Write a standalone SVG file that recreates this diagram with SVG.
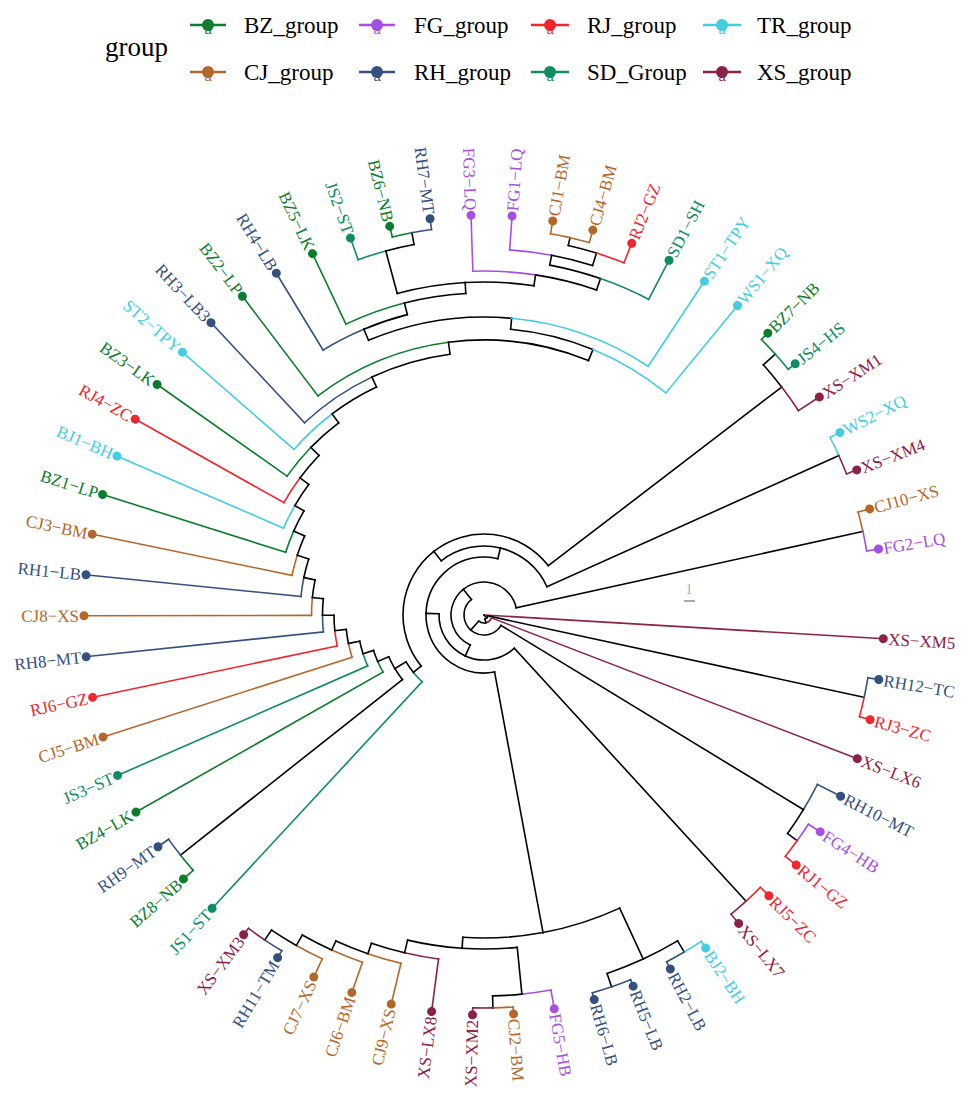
<svg xmlns="http://www.w3.org/2000/svg" width="972" height="1101" viewBox="0 0 972 1101">
<style>
text{font-family:"Liberation Serif","Times New Roman",serif}
.BZ{--c:#0b7d2c}.CJ{--c:#b5672a}.FG{--c:#a54fe3}.RH{--c:#34507f}.RJ{--c:#f0252e}.SD{--c:#0f8c62}.TR{--c:#42cde0}.XS{--c:#8c2046}
#connectors{fill:none;stroke-width:1.6;stroke-linecap:square}
#connectors g{stroke:var(--c,#000)}
#connectors circle{fill:none}
.tip{fill:var(--c)}
.tip text{font-size:17px}
.key line{stroke:var(--c);stroke-width:2.5}
.key circle,.key text{fill:var(--c)}
.key text{font-family:"Liberation Sans",sans-serif;font-size:13px}
.lg{font-size:23px;fill:#000}
</style>
<rect width="972" height="1101" fill="#fff"/>
<g id="legend">
<text x="105" y="56" font-size="27">group</text>
<g class="key BZ"><line x1="190" x2="226" y1="25" y2="25"/><circle cx="208" cy="25" r="6"/><text x="208" y="34" text-anchor="middle">a</text></g>
<text class="lg" x="244" y="33">BZ_group</text>
<g class="key FG"><line x1="359" x2="395" y1="25" y2="25"/><circle cx="377" cy="25" r="6"/><text x="377" y="34" text-anchor="middle">a</text></g>
<text class="lg" x="414" y="33">FG_group</text>
<g class="key RJ"><line x1="531" x2="569" y1="25" y2="25"/><circle cx="550" cy="25" r="6"/><text x="550" y="34" text-anchor="middle">a</text></g>
<text class="lg" x="587" y="33">RJ_group</text>
<g class="key TR"><line x1="703" x2="741" y1="25" y2="25"/><circle cx="722" cy="25" r="6"/><text x="722" y="34" text-anchor="middle">a</text></g>
<text class="lg" x="757" y="33">TR_group</text>
<g class="key CJ"><line x1="190" x2="226" y1="72" y2="72"/><circle cx="208" cy="72" r="6"/><text x="208" y="81" text-anchor="middle">a</text></g>
<text class="lg" x="244" y="80">CJ_group</text>
<g class="key RH"><line x1="359" x2="395" y1="72" y2="72"/><circle cx="377" cy="72" r="6"/><text x="377" y="81" text-anchor="middle">a</text></g>
<text class="lg" x="414" y="80">RH_group</text>
<g class="key SD"><line x1="531" x2="569" y1="72" y2="72"/><circle cx="550" cy="72" r="6"/><text x="550" y="81" text-anchor="middle">a</text></g>
<text class="lg" x="587" y="80">SD_Group</text>
<g class="key XS"><line x1="703" x2="741" y1="72" y2="72"/><circle cx="722" cy="72" r="6"/><text x="722" y="81" text-anchor="middle">a</text></g>
<text class="lg" x="757" y="80">XS_group</text>
</g>
<g id="scalebar"><text x="689" y="594" font-size="14" fill="#aaa" text-anchor="middle">1</text><line x1="684" x2="695" y1="601" y2="601" stroke="#aaa" stroke-width="2"/></g>
<g id="connectors" transform="translate(484,615)">
<g class="XS"><line x1="0" x2="400" transform="rotate(3.4)"/></g>
<g><line x1="0" x2="4" transform="rotate(44.18)"/></g>
<g><circle r="4" pathLength="360" stroke-dasharray="31.955 720" transform="rotate(12.225)"/><line x1="4" x2="389" transform="rotate(12.225)"/></g>
<g><circle r="4" pathLength="360" stroke-dasharray="31.95 720" transform="rotate(44.18)"/><line x1="4" x2="8" transform="rotate(76.13)"/></g>
<g class="XS"><circle r="8" pathLength="360" stroke-dasharray="55.08 720" transform="rotate(21.05)"/><line x1="8" x2="400" transform="rotate(21.05)"/></g>
<g><circle r="8" pathLength="360" stroke-dasharray="55.08 720" transform="rotate(76.13)"/><line x1="8" x2="20" transform="rotate(131.21)"/></g>
<g><circle r="20" pathLength="360" stroke-dasharray="99.865 720" transform="rotate(31.345)"/><line x1="20" x2="374" transform="rotate(31.345)"/></g>
<g><circle r="20" pathLength="360" stroke-dasharray="99.86 720" transform="rotate(131.21)"/><line x1="20" x2="33" transform="rotate(231.07)"/></g>
<g><circle r="33" pathLength="360" stroke-dasharray="116.5 720" transform="rotate(114.57)"/><line x1="33" x2="45" transform="rotate(114.57)"/></g>
<g><circle r="33" pathLength="360" stroke-dasharray="116.49 720" transform="rotate(231.07)"/><line x1="33" x2="388" transform="rotate(347.56)"/></g>
<g><circle r="45" pathLength="360" stroke-dasharray="67.05 720" transform="rotate(47.52)"/><line x1="45" x2="388" transform="rotate(47.52)"/></g>
<g><circle r="45" pathLength="360" stroke-dasharray="67.05 720" transform="rotate(114.57)"/><line x1="45" x2="58" transform="rotate(181.62)"/></g>
<g><circle r="58" pathLength="360" stroke-dasharray="102.15 720" transform="rotate(79.47)"/><line x1="58" x2="323" transform="rotate(79.47)"/></g>
<g><circle r="58" pathLength="360" stroke-dasharray="102.15 720" transform="rotate(181.62)"/><line x1="58" x2="69" transform="rotate(283.77)"/></g>
<g><circle r="69" pathLength="360" stroke-dasharray="52.03 720" transform="rotate(231.74)"/><line x1="69" x2="81" transform="rotate(231.74)"/></g>
<g><circle r="69" pathLength="360" stroke-dasharray="52.02 720" transform="rotate(283.77)"/><line x1="69" x2="389" transform="rotate(335.79)"/></g>
<g><circle r="81" pathLength="360" stroke-dasharray="90.82 720" transform="rotate(140.92)"/><line x1="81" x2="91" transform="rotate(140.92)"/></g>
<g><circle r="81" pathLength="360" stroke-dasharray="90.815 720" transform="rotate(231.74)"/><line x1="81" x2="375" transform="rotate(322.555)"/></g>
<g class="RH"><circle r="389" pathLength="360" stroke-dasharray="2.945 720" transform="rotate(9.28)"/><line x1="389" x2="400" transform="rotate(9.28)"/></g>
<g class="RJ"><circle r="389" pathLength="360" stroke-dasharray="2.945 720" transform="rotate(12.225)"/><line x1="389" x2="400" transform="rotate(15.17)"/></g>
<g class="RH"><circle r="374" pathLength="360" stroke-dasharray="4.415 720" transform="rotate(26.93)"/><line x1="374" x2="400" transform="rotate(26.93)"/></g>
<g><circle r="374" pathLength="360" stroke-dasharray="4.415 720" transform="rotate(31.345)"/><line x1="374" x2="386" transform="rotate(35.76)"/></g>
<g class="FG"><circle r="386" pathLength="360" stroke-dasharray="2.94 720" transform="rotate(32.82)"/><line x1="386" x2="400" transform="rotate(32.82)"/></g>
<g class="RJ"><circle r="386" pathLength="360" stroke-dasharray="2.94 720" transform="rotate(35.76)"/><line x1="386" x2="400" transform="rotate(38.7)"/></g>
<g class="RJ"><circle r="388" pathLength="360" stroke-dasharray="2.94 720" transform="rotate(44.58)"/><line x1="388" x2="400" transform="rotate(44.58)"/></g>
<g class="XS"><circle r="388" pathLength="360" stroke-dasharray="2.94 720" transform="rotate(47.52)"/><line x1="388" x2="400" transform="rotate(50.46)"/></g>
<g><circle r="323" pathLength="360" stroke-dasharray="14.3 720" transform="rotate(65.17)"/><line x1="323" x2="379" transform="rotate(65.17)"/></g>
<g><circle r="323" pathLength="360" stroke-dasharray="14.29 720" transform="rotate(79.47)"/><line x1="323" x2="334" transform="rotate(93.76)"/></g>
<g><circle r="379" pathLength="360" stroke-dasharray="5.88 720" transform="rotate(59.29)"/><line x1="379" x2="392" transform="rotate(59.29)"/></g>
<g><circle r="379" pathLength="360" stroke-dasharray="5.885 720" transform="rotate(65.17)"/><line x1="379" x2="393" transform="rotate(71.055)"/></g>
<g class="TR"><circle r="392" pathLength="360" stroke-dasharray="2.94 720" transform="rotate(56.35)"/><line x1="392" x2="400" transform="rotate(56.35)"/></g>
<g class="RH"><circle r="392" pathLength="360" stroke-dasharray="2.94 720" transform="rotate(59.29)"/><line x1="392" x2="400" transform="rotate(62.23)"/></g>
<g class="RH"><circle r="393" pathLength="360" stroke-dasharray="2.945 720" transform="rotate(68.11)"/><line x1="393" x2="400" transform="rotate(68.11)"/></g>
<g class="RH"><circle r="393" pathLength="360" stroke-dasharray="2.945 720" transform="rotate(71.055)"/><line x1="393" x2="400" transform="rotate(74)"/></g>
<g><circle r="334" pathLength="360" stroke-dasharray="9.47 720" transform="rotate(84.29)"/><line x1="334" x2="381" transform="rotate(84.29)"/></g>
<g><circle r="334" pathLength="360" stroke-dasharray="9.47 720" transform="rotate(93.76)"/><line x1="334" x2="347" transform="rotate(103.23)"/></g>
<g class="FG"><circle r="381" pathLength="360" stroke-dasharray="4.41 720" transform="rotate(79.88)"/><line x1="381" x2="400" transform="rotate(79.88)"/></g>
<g><circle r="381" pathLength="360" stroke-dasharray="4.415 720" transform="rotate(84.29)"/><line x1="381" x2="393" transform="rotate(88.705)"/></g>
<g class="CJ"><circle r="393" pathLength="360" stroke-dasharray="2.945 720" transform="rotate(85.76)"/><line x1="393" x2="400" transform="rotate(85.76)"/></g>
<g class="XS"><circle r="393" pathLength="360" stroke-dasharray="2.945 720" transform="rotate(88.705)"/><line x1="393" x2="400" transform="rotate(91.65)"/></g>
<g class="XS"><circle r="347" pathLength="360" stroke-dasharray="5.7 720" transform="rotate(97.53)"/><line x1="347" x2="400" transform="rotate(97.53)"/></g>
<g><circle r="347" pathLength="360" stroke-dasharray="5.7 720" transform="rotate(103.23)"/><line x1="347" x2="358" transform="rotate(108.93)"/></g>
<g class="CJ"><circle r="358" pathLength="360" stroke-dasharray="5.52 720" transform="rotate(103.41)"/><line x1="358" x2="400" transform="rotate(103.41)"/></g>
<g><circle r="358" pathLength="360" stroke-dasharray="5.51 720" transform="rotate(108.93)"/><line x1="358" x2="368" transform="rotate(114.44)"/></g>
<g class="CJ"><circle r="368" pathLength="360" stroke-dasharray="5.15 720" transform="rotate(109.29)"/><line x1="368" x2="400" transform="rotate(109.29)"/></g>
<g><circle r="368" pathLength="360" stroke-dasharray="5.15 720" transform="rotate(114.44)"/><line x1="368" x2="380" transform="rotate(119.59)"/></g>
<g class="CJ"><circle r="380" pathLength="360" stroke-dasharray="4.41 720" transform="rotate(115.18)"/><line x1="380" x2="400" transform="rotate(115.18)"/></g>
<g><circle r="380" pathLength="360" stroke-dasharray="4.41 720" transform="rotate(119.59)"/><line x1="380" x2="392" transform="rotate(124)"/></g>
<g class="RH"><circle r="392" pathLength="360" stroke-dasharray="2.94 720" transform="rotate(121.06)"/><line x1="392" x2="400" transform="rotate(121.06)"/></g>
<g class="XS"><circle r="392" pathLength="360" stroke-dasharray="2.94 720" transform="rotate(124)"/><line x1="392" x2="400" transform="rotate(126.94)"/></g>
<g class="SD"><circle r="91" pathLength="360" stroke-dasharray="8.09 720" transform="rotate(132.83)"/><line x1="91" x2="400" transform="rotate(132.83)"/></g>
<g><circle r="91" pathLength="360" stroke-dasharray="8.09 720" transform="rotate(140.92)"/><line x1="91" x2="104" transform="rotate(149.01)"/></g>
<g><circle r="104" pathLength="360" stroke-dasharray="7.36 720" transform="rotate(141.65)"/><line x1="104" x2="387" transform="rotate(141.65)"/></g>
<g><circle r="104" pathLength="360" stroke-dasharray="7.36 720" transform="rotate(149.01)"/><line x1="104" x2="116" transform="rotate(156.37)"/></g>
<g class="BZ"><circle r="387" pathLength="360" stroke-dasharray="2.94 720" transform="rotate(138.71)"/><line x1="387" x2="400" transform="rotate(138.71)"/></g>
<g class="RH"><circle r="387" pathLength="360" stroke-dasharray="2.94 720" transform="rotate(141.65)"/><line x1="387" x2="400" transform="rotate(144.59)"/></g>
<g class="BZ"><circle r="116" pathLength="360" stroke-dasharray="5.89 720" transform="rotate(150.48)"/><line x1="116" x2="400" transform="rotate(150.48)"/></g>
<g><circle r="116" pathLength="360" stroke-dasharray="5.88 720" transform="rotate(156.37)"/><line x1="116" x2="127" transform="rotate(162.25)"/></g>
<g class="SD"><circle r="127" pathLength="360" stroke-dasharray="5.89 720" transform="rotate(156.36)"/><line x1="127" x2="400" transform="rotate(156.36)"/></g>
<g><circle r="127" pathLength="360" stroke-dasharray="5.88 720" transform="rotate(162.25)"/><line x1="127" x2="138.5" transform="rotate(168.13)"/></g>
<g class="CJ"><circle r="138.5" pathLength="360" stroke-dasharray="5.89 720" transform="rotate(162.24)"/><line x1="138.5" x2="400" transform="rotate(162.24)"/></g>
<g><circle r="138.5" pathLength="360" stroke-dasharray="5.89 720" transform="rotate(168.13)"/><line x1="138.5" x2="150" transform="rotate(174.02)"/></g>
<g class="RJ"><circle r="150" pathLength="360" stroke-dasharray="5.9 720" transform="rotate(168.12)"/><line x1="150" x2="400" transform="rotate(168.12)"/></g>
<g><circle r="150" pathLength="360" stroke-dasharray="5.9 720" transform="rotate(174.02)"/><line x1="150" x2="161.5" transform="rotate(179.92)"/></g>
<g class="RH"><circle r="161.5" pathLength="360" stroke-dasharray="5.91 720" transform="rotate(174.01)"/><line x1="161.5" x2="400" transform="rotate(174.01)"/></g>
<g><circle r="161.5" pathLength="360" stroke-dasharray="5.9 720" transform="rotate(179.92)"/><line x1="161.5" x2="172.5" transform="rotate(185.82)"/></g>
<g class="CJ"><circle r="172.5" pathLength="360" stroke-dasharray="5.93 720" transform="rotate(179.89)"/><line x1="172.5" x2="400" transform="rotate(179.89)"/></g>
<g><circle r="172.5" pathLength="360" stroke-dasharray="5.93 720" transform="rotate(185.82)"/><line x1="172.5" x2="184" transform="rotate(191.75)"/></g>
<g class="RH"><circle r="184" pathLength="360" stroke-dasharray="5.98 720" transform="rotate(185.77)"/><line x1="184" x2="400" transform="rotate(185.77)"/></g>
<g><circle r="184" pathLength="360" stroke-dasharray="5.98 720" transform="rotate(191.75)"/><line x1="184" x2="196" transform="rotate(197.73)"/></g>
<g class="CJ"><circle r="196" pathLength="360" stroke-dasharray="6.07 720" transform="rotate(191.66)"/><line x1="196" x2="400" transform="rotate(191.66)"/></g>
<g><circle r="196" pathLength="360" stroke-dasharray="6.07 720" transform="rotate(197.73)"/><line x1="196" x2="208" transform="rotate(203.8)"/></g>
<g class="BZ"><circle r="208" pathLength="360" stroke-dasharray="6.26 720" transform="rotate(197.54)"/><line x1="208" x2="400" transform="rotate(197.54)"/></g>
<g><circle r="208" pathLength="360" stroke-dasharray="6.25 720" transform="rotate(203.8)"/><line x1="208" x2="218.5" transform="rotate(210.05)"/></g>
<g class="TR"><circle r="218.5" pathLength="360" stroke-dasharray="6.63 720" transform="rotate(203.42)"/><line x1="218.5" x2="400" transform="rotate(203.42)"/></g>
<g><circle r="218.5" pathLength="360" stroke-dasharray="6.63 720" transform="rotate(210.05)"/><line x1="218.5" x2="229.5" transform="rotate(216.68)"/></g>
<g class="RJ"><circle r="229.5" pathLength="360" stroke-dasharray="7.37 720" transform="rotate(209.31)"/><line x1="229.5" x2="400" transform="rotate(209.31)"/></g>
<g><circle r="229.5" pathLength="360" stroke-dasharray="7.38 720" transform="rotate(216.68)"/><line x1="229.5" x2="241" transform="rotate(224.06)"/></g>
<g class="BZ"><circle r="241" pathLength="360" stroke-dasharray="8.87 720" transform="rotate(215.19)"/><line x1="241" x2="400" transform="rotate(215.19)"/></g>
<g><circle r="241" pathLength="360" stroke-dasharray="8.86 720" transform="rotate(224.06)"/><line x1="241" x2="252" transform="rotate(232.92)"/></g>
<g class="TR"><circle r="252" pathLength="360" stroke-dasharray="11.85 720" transform="rotate(221.07)"/><line x1="252" x2="400" transform="rotate(221.07)"/></g>
<g><circle r="252" pathLength="360" stroke-dasharray="11.85 720" transform="rotate(232.92)"/><line x1="252" x2="263" transform="rotate(244.77)"/></g>
<g class="RH"><circle r="263" pathLength="360" stroke-dasharray="17.81 720" transform="rotate(226.96)"/><line x1="263" x2="400" transform="rotate(226.96)"/></g>
<g><circle r="263" pathLength="360" stroke-dasharray="17.81 720" transform="rotate(244.77)"/><line x1="263" x2="275" transform="rotate(262.58)"/></g>
<g class="BZ"><circle r="275" pathLength="360" stroke-dasharray="29.74 720" transform="rotate(232.84)"/><line x1="275" x2="400" transform="rotate(232.84)"/></g>
<g><circle r="275" pathLength="360" stroke-dasharray="29.74 720" transform="rotate(262.58)"/><line x1="275" x2="287" transform="rotate(292.32)"/></g>
<g><circle r="287" pathLength="360" stroke-dasharray="17 720" transform="rotate(275.32)"/><line x1="287" x2="298" transform="rotate(275.32)"/></g>
<g class="TR"><circle r="287" pathLength="360" stroke-dasharray="17 720" transform="rotate(292.32)"/><line x1="287" x2="400" transform="rotate(309.32)"/></g>
<g><circle r="298" pathLength="360" stroke-dasharray="28.12 720" transform="rotate(247.2)"/><line x1="298" x2="310" transform="rotate(247.2)"/></g>
<g class="TR"><circle r="298" pathLength="360" stroke-dasharray="28.11 720" transform="rotate(275.32)"/><line x1="298" x2="400" transform="rotate(303.43)"/></g>
<g class="RH"><circle r="310" pathLength="360" stroke-dasharray="8.48 720" transform="rotate(238.72)"/><line x1="310" x2="400" transform="rotate(238.72)"/></g>
<g><circle r="310" pathLength="360" stroke-dasharray="8.49 720" transform="rotate(247.2)"/><line x1="310" x2="322" transform="rotate(255.69)"/></g>
<g class="BZ"><circle r="322" pathLength="360" stroke-dasharray="11.08 720" transform="rotate(244.61)"/><line x1="322" x2="400" transform="rotate(244.61)"/></g>
<g><circle r="322" pathLength="360" stroke-dasharray="11.07 720" transform="rotate(255.69)"/><line x1="322" x2="333" transform="rotate(266.76)"/></g>
<g><circle r="333" pathLength="360" stroke-dasharray="11.86 720" transform="rotate(254.9)"/><line x1="333" x2="377" transform="rotate(254.9)"/></g>
<g><circle r="333" pathLength="360" stroke-dasharray="11.86 720" transform="rotate(266.76)"/><line x1="333" x2="344" transform="rotate(278.62)"/></g>
<g class="SD"><circle r="377" pathLength="360" stroke-dasharray="4.41 720" transform="rotate(250.49)"/><line x1="377" x2="400" transform="rotate(250.49)"/></g>
<g><circle r="377" pathLength="360" stroke-dasharray="4.41 720" transform="rotate(254.9)"/><line x1="377" x2="389" transform="rotate(259.31)"/></g>
<g class="BZ"><circle r="389" pathLength="360" stroke-dasharray="2.94 720" transform="rotate(256.37)"/><line x1="389" x2="400" transform="rotate(256.37)"/></g>
<g class="RH"><circle r="389" pathLength="360" stroke-dasharray="2.94 720" transform="rotate(259.31)"/><line x1="389" x2="400" transform="rotate(262.25)"/></g>
<g class="FG"><circle r="344" pathLength="360" stroke-dasharray="10.48 720" transform="rotate(268.14)"/><line x1="344" x2="400" transform="rotate(268.14)"/></g>
<g><circle r="344" pathLength="360" stroke-dasharray="10.48 720" transform="rotate(278.62)"/><line x1="344" x2="356" transform="rotate(289.1)"/></g>
<g><circle r="356" pathLength="360" stroke-dasharray="8.46 720" transform="rotate(280.64)"/><line x1="356" x2="366" transform="rotate(280.64)"/></g>
<g class="SD"><circle r="356" pathLength="360" stroke-dasharray="8.45 720" transform="rotate(289.1)"/><line x1="356" x2="400" transform="rotate(297.55)"/></g>
<g class="FG"><circle r="366" pathLength="360" stroke-dasharray="6.62 720" transform="rotate(274.02)"/><line x1="366" x2="400" transform="rotate(274.02)"/></g>
<g><circle r="366" pathLength="360" stroke-dasharray="6.62 720" transform="rotate(280.64)"/><line x1="366" x2="379" transform="rotate(287.26)"/></g>
<g><circle r="379" pathLength="360" stroke-dasharray="4.415 720" transform="rotate(282.845)"/><line x1="379" x2="387" transform="rotate(282.845)"/></g>
<g class="RJ"><circle r="379" pathLength="360" stroke-dasharray="4.41 720" transform="rotate(287.26)"/><line x1="379" x2="400" transform="rotate(291.67)"/></g>
<g class="CJ"><circle r="387" pathLength="360" stroke-dasharray="2.945 720" transform="rotate(279.9)"/><line x1="387" x2="400" transform="rotate(279.9)"/></g>
<g class="CJ"><circle r="387" pathLength="360" stroke-dasharray="2.945 720" transform="rotate(282.845)"/><line x1="387" x2="400" transform="rotate(285.79)"/></g>
<g><circle r="375" pathLength="360" stroke-dasharray="4.415 720" transform="rotate(318.14)"/><line x1="375" x2="391" transform="rotate(318.14)"/></g>
<g class="XS"><circle r="375" pathLength="360" stroke-dasharray="4.415 720" transform="rotate(322.555)"/><line x1="375" x2="400" transform="rotate(326.97)"/></g>
<g class="BZ"><circle r="391" pathLength="360" stroke-dasharray="2.94 720" transform="rotate(315.2)"/><line x1="391" x2="400" transform="rotate(315.2)"/></g>
<g class="SD"><circle r="391" pathLength="360" stroke-dasharray="2.94 720" transform="rotate(318.14)"/><line x1="391" x2="400" transform="rotate(321.08)"/></g>
<g class="TR"><circle r="389" pathLength="360" stroke-dasharray="2.94 720" transform="rotate(332.85)"/><line x1="389" x2="400" transform="rotate(332.85)"/></g>
<g class="XS"><circle r="389" pathLength="360" stroke-dasharray="2.94 720" transform="rotate(335.79)"/><line x1="389" x2="400" transform="rotate(338.73)"/></g>
<g class="CJ"><circle r="388" pathLength="360" stroke-dasharray="2.94 720" transform="rotate(344.62)"/><line x1="388" x2="400" transform="rotate(344.62)"/></g>
<g class="FG"><circle r="388" pathLength="360" stroke-dasharray="2.94 720" transform="rotate(347.56)"/><line x1="388" x2="400" transform="rotate(350.5)"/></g>
</g>
<g id="tips" transform="translate(484,615)">
<g id="tip-XS-XM5" class="tip XS" transform="rotate(3.4)"><circle cx="400" r="4.5"/><text x="405" dy=".35em">XS−XM5</text></g>
<g id="tip-RH12-TC" class="tip RH" transform="rotate(9.28)"><circle cx="400" r="4.5"/><text x="405" dy=".35em">RH12−TC</text></g>
<g id="tip-RJ3-ZC" class="tip RJ" transform="rotate(15.17)"><circle cx="400" r="4.5"/><text x="405" dy=".35em">RJ3−ZC</text></g>
<g id="tip-XS-LX6" class="tip XS" transform="rotate(21.05)"><circle cx="400" r="4.5"/><text x="405" dy=".35em">XS−LX6</text></g>
<g id="tip-RH10-MT" class="tip RH" transform="rotate(26.93)"><circle cx="400" r="4.5"/><text x="405" dy=".35em">RH10−MT</text></g>
<g id="tip-FG4-HB" class="tip FG" transform="rotate(32.82)"><circle cx="400" r="4.5"/><text x="405" dy=".35em">FG4−HB</text></g>
<g id="tip-RJ1-GZ" class="tip RJ" transform="rotate(38.7)"><circle cx="400" r="4.5"/><text x="405" dy=".35em">RJ1−GZ</text></g>
<g id="tip-RJ5-ZC" class="tip RJ" transform="rotate(44.58)"><circle cx="400" r="4.5"/><text x="405" dy=".35em">RJ5−ZC</text></g>
<g id="tip-XS-LX7" class="tip XS" transform="rotate(50.46)"><circle cx="400" r="4.5"/><text x="405" dy=".35em">XS−LX7</text></g>
<g id="tip-BJ2-BH" class="tip TR" transform="rotate(56.35)"><circle cx="400" r="4.5"/><text x="405" dy=".35em">BJ2−BH</text></g>
<g id="tip-RH2-LB" class="tip RH" transform="rotate(62.23)"><circle cx="400" r="4.5"/><text x="405" dy=".35em">RH2−LB</text></g>
<g id="tip-RH5-LB" class="tip RH" transform="rotate(68.11)"><circle cx="400" r="4.5"/><text x="405" dy=".35em">RH5−LB</text></g>
<g id="tip-RH6-LB" class="tip RH" transform="rotate(74)"><circle cx="400" r="4.5"/><text x="405" dy=".35em">RH6−LB</text></g>
<g id="tip-FG5-HB" class="tip FG" transform="rotate(79.88)"><circle cx="400" r="4.5"/><text x="405" dy=".35em">FG5−HB</text></g>
<g id="tip-CJ2-BM" class="tip CJ" transform="rotate(85.76)"><circle cx="400" r="4.5"/><text x="405" dy=".35em">CJ2−BM</text></g>
<g id="tip-XS-XM2" class="tip XS" transform="rotate(91.65)"><circle cx="400" r="4.5"/><text transform="translate(405) rotate(180)" text-anchor="end" dy=".35em">XS−XM2</text></g>
<g id="tip-XS-LX8" class="tip XS" transform="rotate(97.53)"><circle cx="400" r="4.5"/><text transform="translate(405) rotate(180)" text-anchor="end" dy=".35em">XS−LX8</text></g>
<g id="tip-CJ9-XS" class="tip CJ" transform="rotate(103.41)"><circle cx="400" r="4.5"/><text transform="translate(405) rotate(180)" text-anchor="end" dy=".35em">CJ9−XS</text></g>
<g id="tip-CJ6-BM" class="tip CJ" transform="rotate(109.29)"><circle cx="400" r="4.5"/><text transform="translate(405) rotate(180)" text-anchor="end" dy=".35em">CJ6−BM</text></g>
<g id="tip-CJ7-XS" class="tip CJ" transform="rotate(115.18)"><circle cx="400" r="4.5"/><text transform="translate(405) rotate(180)" text-anchor="end" dy=".35em">CJ7−XS</text></g>
<g id="tip-RH11-TM" class="tip RH" transform="rotate(121.06)"><circle cx="400" r="4.5"/><text transform="translate(405) rotate(180)" text-anchor="end" dy=".35em">RH11−TM</text></g>
<g id="tip-XS-XM3" class="tip XS" transform="rotate(126.94)"><circle cx="400" r="4.5"/><text transform="translate(405) rotate(180)" text-anchor="end" dy=".35em">XS−XM3</text></g>
<g id="tip-JS1-ST" class="tip SD" transform="rotate(132.83)"><circle cx="400" r="4.5"/><text transform="translate(405) rotate(180)" text-anchor="end" dy=".35em">JS1−ST</text></g>
<g id="tip-BZ8-NB" class="tip BZ" transform="rotate(138.71)"><circle cx="400" r="4.5"/><text transform="translate(405) rotate(180)" text-anchor="end" dy=".35em">BZ8−NB</text></g>
<g id="tip-RH9-MT" class="tip RH" transform="rotate(144.59)"><circle cx="400" r="4.5"/><text transform="translate(405) rotate(180)" text-anchor="end" dy=".35em">RH9−MT</text></g>
<g id="tip-BZ4-LK" class="tip BZ" transform="rotate(150.48)"><circle cx="400" r="4.5"/><text transform="translate(405) rotate(180)" text-anchor="end" dy=".35em">BZ4−LK</text></g>
<g id="tip-JS3-ST" class="tip SD" transform="rotate(156.36)"><circle cx="400" r="4.5"/><text transform="translate(405) rotate(180)" text-anchor="end" dy=".35em">JS3−ST</text></g>
<g id="tip-CJ5-BM" class="tip CJ" transform="rotate(162.24)"><circle cx="400" r="4.5"/><text transform="translate(405) rotate(180)" text-anchor="end" dy=".35em">CJ5−BM</text></g>
<g id="tip-RJ6-GZ" class="tip RJ" transform="rotate(168.12)"><circle cx="400" r="4.5"/><text transform="translate(405) rotate(180)" text-anchor="end" dy=".35em">RJ6−GZ</text></g>
<g id="tip-RH8-MT" class="tip RH" transform="rotate(174.01)"><circle cx="400" r="4.5"/><text transform="translate(405) rotate(180)" text-anchor="end" dy=".35em">RH8−MT</text></g>
<g id="tip-CJ8-XS" class="tip CJ" transform="rotate(179.89)"><circle cx="400" r="4.5"/><text transform="translate(405) rotate(180)" text-anchor="end" dy=".35em">CJ8−XS</text></g>
<g id="tip-RH1-LB" class="tip RH" transform="rotate(185.77)"><circle cx="400" r="4.5"/><text transform="translate(405) rotate(180)" text-anchor="end" dy=".35em">RH1−LB</text></g>
<g id="tip-CJ3-BM" class="tip CJ" transform="rotate(191.66)"><circle cx="400" r="4.5"/><text transform="translate(405) rotate(180)" text-anchor="end" dy=".35em">CJ3−BM</text></g>
<g id="tip-BZ1-LP" class="tip BZ" transform="rotate(197.54)"><circle cx="400" r="4.5"/><text transform="translate(405) rotate(180)" text-anchor="end" dy=".35em">BZ1−LP</text></g>
<g id="tip-BJ1-BH" class="tip TR" transform="rotate(203.42)"><circle cx="400" r="4.5"/><text transform="translate(405) rotate(180)" text-anchor="end" dy=".35em">BJ1−BH</text></g>
<g id="tip-RJ4-ZC" class="tip RJ" transform="rotate(209.31)"><circle cx="400" r="4.5"/><text transform="translate(405) rotate(180)" text-anchor="end" dy=".35em">RJ4−ZC</text></g>
<g id="tip-BZ3-LK" class="tip BZ" transform="rotate(215.19)"><circle cx="400" r="4.5"/><text transform="translate(405) rotate(180)" text-anchor="end" dy=".35em">BZ3−LK</text></g>
<g id="tip-ST2-TPY" class="tip TR" transform="rotate(221.07)"><circle cx="400" r="4.5"/><text transform="translate(405) rotate(180)" text-anchor="end" dy=".35em">ST2−TPY</text></g>
<g id="tip-RH3-LB3" class="tip RH" transform="rotate(226.96)"><circle cx="400" r="4.5"/><text transform="translate(405) rotate(180)" text-anchor="end" dy=".35em">RH3−LB3</text></g>
<g id="tip-BZ2-LP" class="tip BZ" transform="rotate(232.84)"><circle cx="400" r="4.5"/><text transform="translate(405) rotate(180)" text-anchor="end" dy=".35em">BZ2−LP</text></g>
<g id="tip-RH4-LB" class="tip RH" transform="rotate(238.72)"><circle cx="400" r="4.5"/><text transform="translate(405) rotate(180)" text-anchor="end" dy=".35em">RH4−LB</text></g>
<g id="tip-BZ5-LK" class="tip BZ" transform="rotate(244.61)"><circle cx="400" r="4.5"/><text transform="translate(405) rotate(180)" text-anchor="end" dy=".35em">BZ5−LK</text></g>
<g id="tip-JS2-ST" class="tip SD" transform="rotate(250.49)"><circle cx="400" r="4.5"/><text transform="translate(405) rotate(180)" text-anchor="end" dy=".35em">JS2−ST</text></g>
<g id="tip-BZ6-NB" class="tip BZ" transform="rotate(256.37)"><circle cx="400" r="4.5"/><text transform="translate(405) rotate(180)" text-anchor="end" dy=".35em">BZ6−NB</text></g>
<g id="tip-RH7-MT" class="tip RH" transform="rotate(262.25)"><circle cx="400" r="4.5"/><text transform="translate(405) rotate(180)" text-anchor="end" dy=".35em">RH7−MT</text></g>
<g id="tip-FG3-LQ" class="tip FG" transform="rotate(268.14)"><circle cx="400" r="4.5"/><text transform="translate(405) rotate(180)" text-anchor="end" dy=".35em">FG3−LQ</text></g>
<g id="tip-FG1-LQ" class="tip FG" transform="rotate(274.02)"><circle cx="400" r="4.5"/><text x="405" dy=".35em">FG1−LQ</text></g>
<g id="tip-CJ1-BM" class="tip CJ" transform="rotate(279.9)"><circle cx="400" r="4.5"/><text x="405" dy=".35em">CJ1−BM</text></g>
<g id="tip-CJ4-BM" class="tip CJ" transform="rotate(285.79)"><circle cx="400" r="4.5"/><text x="405" dy=".35em">CJ4−BM</text></g>
<g id="tip-RJ2-GZ" class="tip RJ" transform="rotate(291.67)"><circle cx="400" r="4.5"/><text x="405" dy=".35em">RJ2−GZ</text></g>
<g id="tip-SD1-SH" class="tip SD" transform="rotate(297.55)"><circle cx="400" r="4.5"/><text x="405" dy=".35em">SD1−SH</text></g>
<g id="tip-ST1-TPY" class="tip TR" transform="rotate(303.43)"><circle cx="400" r="4.5"/><text x="405" dy=".35em">ST1−TPY</text></g>
<g id="tip-WS1-XQ" class="tip TR" transform="rotate(309.32)"><circle cx="400" r="4.5"/><text x="405" dy=".35em">WS1−XQ</text></g>
<g id="tip-BZ7-NB" class="tip BZ" transform="rotate(315.2)"><circle cx="400" r="4.5"/><text x="405" dy=".35em">BZ7−NB</text></g>
<g id="tip-JS4-HS" class="tip SD" transform="rotate(321.08)"><circle cx="400" r="4.5"/><text x="405" dy=".35em">JS4−HS</text></g>
<g id="tip-XS-XM1" class="tip XS" transform="rotate(326.97)"><circle cx="400" r="4.5"/><text x="405" dy=".35em">XS−XM1</text></g>
<g id="tip-WS2-XQ" class="tip TR" transform="rotate(332.85)"><circle cx="400" r="4.5"/><text x="405" dy=".35em">WS2−XQ</text></g>
<g id="tip-XS-XM4" class="tip XS" transform="rotate(338.73)"><circle cx="400" r="4.5"/><text x="405" dy=".35em">XS−XM4</text></g>
<g id="tip-CJ10-XS" class="tip CJ" transform="rotate(344.62)"><circle cx="400" r="4.5"/><text x="405" dy=".35em">CJ10−XS</text></g>
<g id="tip-FG2-LQ" class="tip FG" transform="rotate(350.5)"><circle cx="400" r="4.5"/><text x="405" dy=".35em">FG2−LQ</text></g>
</g>
</svg>
